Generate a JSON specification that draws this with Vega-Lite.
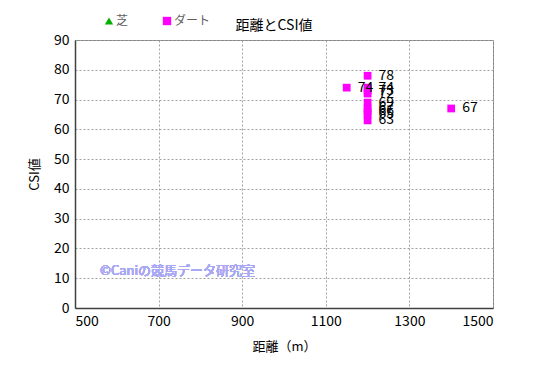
{
  "$schema": "https://vega.github.io/schema/vega-lite/v6.json",
  "width": 418,
  "height": 268,
  "autosize": {"type": "none"},
  "padding": {"left": 75, "top": 40, "right": 52, "bottom": 69},
  "background": "white",
  "config": {
    "font": "Noto Sans CJK JP",
    "view": {"stroke": "#808080", "strokeWidth": 1},
    "axis": {
      "labelFont": "Noto Sans CJK JP",
      "titleFont": "Noto Sans CJK JP",
      "labelColor": "black",
      "titleColor": "black",
      "labelFontSize": 14,
      "titleFontSize": 13,
      "titleFontWeight": "normal",
      "gridColor": "#a0a0a0",
      "gridDash": [2, 2],
      "gridWidth": 1,
      "domainColor": "#404040",
      "domainWidth": 1.5,
      "ticks": false,
      "labelPadding": 6,
      "labelOverlap": false
    }
  },
  "title": {
    "text": "距離とCSI値",
    "fontSize": 14,
    "fontWeight": "normal",
    "color": "black",
    "font": "Noto Sans CJK JP",
    "dx": -10,
    "offset": -18
  },
  "data": {
    "values": [
      {"distance": 1200, "csi": 78, "type": "ダート"},
      {"distance": 1150, "csi": 74, "type": "ダート"},
      {"distance": 1200, "csi": 74, "type": "ダート"},
      {"distance": 1200, "csi": 73, "type": "ダート"},
      {"distance": 1200, "csi": 72, "type": "ダート"},
      {"distance": 1200, "csi": 69, "type": "ダート"},
      {"distance": 1200, "csi": 67, "type": "ダート"},
      {"distance": 1200, "csi": 66, "type": "ダート"},
      {"distance": 1200, "csi": 65, "type": "ダート"},
      {"distance": 1200, "csi": 63, "type": "ダート"},
      {"distance": 1400, "csi": 67, "type": "ダート"}
    ]
  },
  "encoding": {
    "x": {
      "field": "distance",
      "type": "quantitative",
      "scale": {"domain": [500, 1500], "nice": false},
      "axis": {"values": [500, 700, 900, 1100, 1300, 1500], "format": "d", "title": "距離（m）", "titlePadding": 12}
    },
    "y": {
      "field": "csi",
      "type": "quantitative",
      "scale": {"domain": [0, 90], "nice": false},
      "axis": {"values": [0, 10, 20, 30, 40, 50, 60, 70, 80, 90], "format": "d", "title": "CSI値", "titlePadding": 12}
    }
  },
  "layer": [
    {
      "mark": {"type": "point", "filled": true, "size": 60, "opacity": 1},
      "encoding": {
        "color": {
          "field": "type",
          "type": "nominal",
          "scale": {"domain": ["芝", "ダート"], "range": ["#00B000", "#FF00FF"]},
          "legend": {
            "title": null,
            "orient": "none",
            "legendX": 28,
            "legendY": -25,
            "direction": "horizontal",
            "columns": 2,
            "columnPadding": 32,
            "labelFontSize": 12,
            "labelColor": "#606060",
            "labelFont": "Noto Sans CJK JP",
            "symbolSize": 70,
            "labelOffset": 1,
            "symbolStrokeWidth": 0
          }
        },
        "shape": {
          "field": "type",
          "type": "nominal",
          "scale": {"domain": ["芝", "ダート"], "range": ["triangle-up", "square"]},
          "legend": null
        }
      }
    },
    {
      "mark": {"type": "text", "align": "left", "baseline": "middle", "dx": 11, "fontSize": 14, "color": "black"},
      "encoding": {
        "text": {"field": "csi", "type": "quantitative"}
      }
    },
    {
      "mark": {"type": "text", "align": "left", "baseline": "middle", "fontSize": 13, "color": "#a8a8f4"},
      "encoding": {
        "x": {"datum": 560},
        "y": {"datum": 12.4},
        "text": {"value": "©Caniの競馬データ研究室"}
      }
    }
  ]
}
